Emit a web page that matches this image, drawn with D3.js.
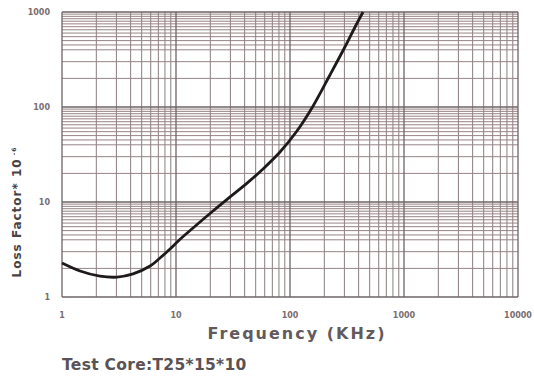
<!DOCTYPE html>
<html><head><meta charset="utf-8">
<script src="https://cdn.jsdelivr.net/npm/d3@7"></script>
<style>body{margin:0;background:#fff}svg{display:block}</style>
</head><body>
<svg id="c" width="534" height="379"></svg>
<script>
const freq =   [1.0, 1.44, 2.15, 3.04, 4.2, 5.92, 7.24, 8.86, 10.8, 14.1, 21.1, 29.8, 42, 58, 81.7, 115, 159, 224, 303, 372, 437];
const loss =   [2.28, 1.88, 1.66, 1.62, 1.75, 2.12, 2.57, 3.2, 4.03, 5.33, 8.04, 11.3, 15.8, 22.3, 33.6, 55.9, 102, 217, 428, 695, 1000];
const xTicks = [1, 10, 100, 1000, 10000];
const xTickLabels = ["1", "10", "100", "1000", "10000"];
const yTicks = [1, 10, 100, 1000];
const yTickLabels = ["1", "10", "100", "1000"];
const yMinorSteps = [2, 3, 4, 4.5, 5, 5.5, 6, 6.5, 7, 7.5, 8, 8.5, 9, 9.5];
const xMinorSteps = [2, 3, 4, 5, 6, 7, 8, 9];

const svg = d3.select("#c");
const x = d3.scaleLog().domain([1, 10000]).range([62, 518]);
const y = d3.scaleLog().domain([1, 1000]).range([297, 12]);

const g = svg.append("g");
const xGrid = [];
for (let d = 1; d < 10000; d *= 10) xMinorSteps.forEach(s => xGrid.push(d * s));
const yGrid = [];
for (let d = 1; d < 1000; d *= 10) yMinorSteps.forEach(s => yGrid.push(d * s));

g.selectAll(".vx").data(xGrid).join("line")
  .attr("x1", d => x(d)).attr("x2", d => x(d))
  .attr("y1", y(1000)).attr("y2", y(1))
  .attr("stroke", "#8a7d7f").attr("stroke-width", 1);
g.selectAll(".hy").data(yGrid).join("line")
  .attr("y1", d => y(d)).attr("y2", d => y(d))
  .attr("x1", x(1)).attr("x2", x(10000))
  .attr("stroke", "#988386").attr("stroke-width", 1);
g.selectAll(".vmaj").data(xTicks).join("line")
  .attr("x1", d => x(d)).attr("x2", d => x(d))
  .attr("y1", y(1000)).attr("y2", y(1))
  .attr("stroke", "#6e6466").attr("stroke-width", 1.3);
g.selectAll(".hmaj").data(yTicks).join("line")
  .attr("y1", d => y(d)).attr("y2", d => y(d))
  .attr("x1", x(1)).attr("x2", x(10000))
  .attr("stroke", "#6e6466").attr("stroke-width", 1.3);

const lblColor = "#7a6e70";
g.selectAll(".xl").data(xTicks).join("text")
  .attr("x", d => x(d)).attr("y", 318)
  .attr("text-anchor", "middle")
  .attr("font-family", "DejaVu Sans, sans-serif").attr("font-weight", "bold")
  .attr("font-size", 8).attr("fill", lblColor)
  .text((d, i) => xTickLabels[i]);
g.selectAll(".yl").data(yTicks).join("text")
  .attr("x", 50).attr("y", d => y(d) + 3)
  .attr("text-anchor", "end")
  .attr("font-family", "DejaVu Sans, sans-serif").attr("font-weight", "bold")
  .attr("font-size", 8).attr("fill", lblColor)
  .text((d, i) => yTickLabels[i]);

const line = d3.line().x((d, i) => x(freq[i])).y(d => y(d)).curve(d3.curveCatmullRom.alpha(0.5));
g.append("path").attr("d", line(loss))
  .attr("fill", "none").attr("stroke", "#1e1a1b").attr("stroke-width", 2.8);

svg.append("text").attr("x", 297).attr("y", 339)
  .attr("text-anchor", "middle")
  .attr("font-family", "DejaVu Sans, sans-serif").attr("font-weight", "bold")
  .attr("font-size", 16).attr("letter-spacing", 2).attr("fill", "#625a5c")
  .text("Frequency (KHz)");

const yt = svg.append("text").attr("transform", "translate(21,212) rotate(-90)")
  .attr("text-anchor", "middle")
  .attr("font-family", "DejaVu Sans, sans-serif").attr("font-weight", "bold")
  .attr("font-size", 12).attr("letter-spacing", 1).attr("fill", "#4a4244");
yt.append("tspan").text("Loss Factor* 10");
yt.append("tspan").attr("font-size", 6).attr("dy", -5).text(" -6");

svg.append("text").attr("x", 62).attr("y", 370)
  .attr("font-family", "DejaVu Sans, sans-serif").attr("font-weight", "bold")
  .attr("font-size", 15.5).attr("letter-spacing", 0.3).attr("fill", "#5a5254")
  .text("Test Core:T25*15*10");
</script>
</body></html>
